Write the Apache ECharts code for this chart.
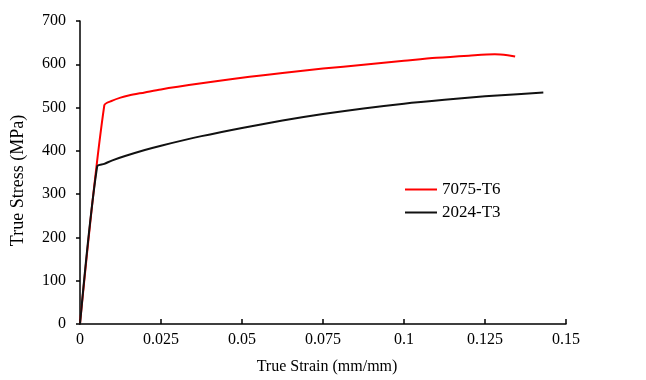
<!DOCTYPE html>
<html>
<head>
<meta charset="utf-8">
<script src="https://cdn.jsdelivr.net/npm/echarts@6/dist/echarts.min.js"></script>
<style>
  html, body { margin: 0; padding: 0; background: #fff; }
  #chart { width: 646px; height: 380px; }
</style>
</head>
<body>
<div id="chart"></div>
<script>
// true strain (mm/mm) / true stress (MPa)
const strain7075 = [0, 0.0075, 0.01, 0.0125, 0.015, 0.02, 0.025, 0.0375, 0.05, 0.0625, 0.075, 0.0875, 0.1, 0.11, 0.12, 0.128, 0.132, 0.1343]
const stress7075 = [0, 505, 516, 523, 528, 535, 542, 556, 569, 580, 590, 599, 608, 615, 620, 623, 621, 618]

const strain2024 = [0, 0.0053, 0.0075, 0.01, 0.0139, 0.02, 0.025, 0.0375, 0.05, 0.0625, 0.075, 0.0875, 0.1, 0.1125, 0.125, 0.135, 0.143]
const stress2024 = [0, 364, 370, 378, 388, 402, 412, 434, 453, 470, 485, 498, 509, 518, 526, 531, 535]

const seriesNames = ['7075-T6', '2024-T3']

function pairs(xs, ys) {
  return xs.map((x, i) => [x, ys[i]])
}

const font = 'Liberation Serif, Times New Roman, serif'

const chart = echarts.init(document.getElementById('chart'))
chart.setOption({
  animation: false,
  textStyle: { fontFamily: font },
  grid: { left: 80, right: 80, top: 21, bottom: 54 },
  legend: {
    orient: 'vertical',
    left: 405,
    top: 181,
    padding: 0,
    itemWidth: 32,
    itemHeight: 2,
    itemGap: 6,
    icon: 'rect',
    textStyle: { fontFamily: font, fontSize: 17, color: '#000' },
    data: seriesNames
  },
  xAxis: {
    type: 'value',
    min: 0,
    max: 0.15,
    interval: 0.025,
    name: 'True Strain (mm/mm)',
    nameLocation: 'middle',
    nameGap: 35,
    nameTextStyle: { fontFamily: font, fontSize: 16, color: '#000', padding: [0, 0, 0, 8] },
    axisLine: { lineStyle: { color: '#000', width: 1.5 } },
    axisTick: { inside: true, length: 5, lineStyle: { color: '#000', width: 1.5 } },
    axisLabel: { fontFamily: font, fontSize: 16, color: '#000', margin: 8 },
    splitLine: { show: false }
  },
  yAxis: {
    type: 'value',
    min: 0,
    max: 700,
    interval: 100,
    name: 'True Stress (MPa)',
    nameLocation: 'middle',
    nameGap: 53,
    nameTextStyle: { fontFamily: font, fontSize: 18, color: '#000', padding: [0, 16, 0, 0] },
    axisLine: { show: true, lineStyle: { color: '#000', width: 1.5 } },
    axisTick: { show: true, length: 4, lineStyle: { color: '#000', width: 1.5 } },
    axisLabel: { fontFamily: font, fontSize: 16, color: '#000', margin: 14 },
    splitLine: { show: false }
  },
  series: [
    {
      name: seriesNames[0],
      type: 'line',
      smooth: 0.3,
      symbol: 'none',
      lineStyle: { color: '#ff0000', width: 2 },
      itemStyle: { color: '#ff0000' },
      data: pairs(strain7075, stress7075)
    },
    {
      name: seriesNames[1],
      type: 'line',
      smooth: 0.3,
      symbol: 'none',
      lineStyle: { color: '#111', width: 2 },
      itemStyle: { color: '#111' },
      data: pairs(strain2024, stress2024)
    }
  ]
})
</script>
</body>
</html>
